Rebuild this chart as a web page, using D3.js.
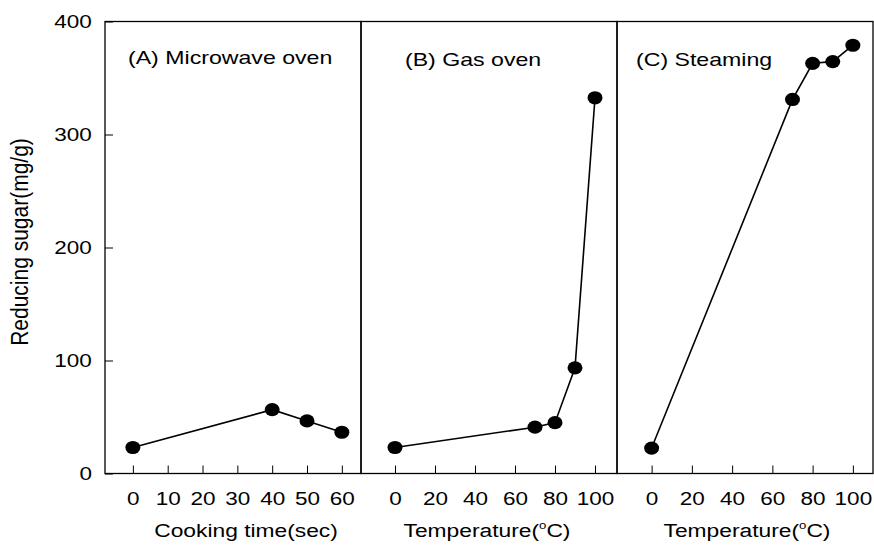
<!DOCTYPE html>
<html>
<head>
<meta charset="utf-8">
<script src="https://cdn.jsdelivr.net/npm/d3@7"></script>
<style>
  body { margin: 0; background: #fff; }
  text { font-family: "Liberation Sans", Arial, sans-serif; fill: #000; }
  .axis path { display: none; }
  .axis line { stroke: #000; stroke-width: 1; }
  .axis text { font-size: 18px; }
</style>
</head>
<body>
<div id="chart"></div>
<script>

// data
var timeA  = [0, 40, 50, 60];
var sugarA = [23, 56.5, 46.5, 36.5];

var tempB  = [0, 70, 80, 90, 100];
var sugarB = [23, 41, 45, 93.5, 332.5];

var tempC  = [0, 70, 80, 90, 100];
var sugarC = [22.5, 331, 363, 364.5, 379];

var ticksA = [0, 10, 20, 30, 40, 50, 60];
var ticksT = [0, 20, 40, 60, 80, 100];
var ticksY = [0, 100, 200, 300, 400];

var titles  = ["(A) Microwave oven", "(B) Gas oven", "(C) Steaming"];
var xTitles = ["Cooking time(sec)", "Temperature(", "Temperature("];

// scanned figure is stretched sideways a bit
var SX = 1.25;

var W = 874, H = 547;
var margin = { top: 21.5, left: 105, bottom: 73.5 };
var panelW = 256;
var plotH = H - margin.top - margin.bottom;

var svg = d3.select("#chart").append("svg")
    .attr("width", W)
    .attr("height", H);

var y = d3.scaleLinear()
    .domain([0, 400])
    .range([margin.top + plotH, margin.top]);

var panels = [
    { xs: timeA, ys: sugarA, domain: [-8, 65.5], ticks: ticksA, titleX: 128, titleY: 64, labelX: 246, deg: false },
    { xs: tempB, ys: sugarB, domain: [-17, 111], ticks: ticksT, titleX: 405, titleY: 66, labelX: 487, deg: true },
    { xs: tempC, ys: sugarC, domain: [-17.2, 110], ticks: ticksT, titleX: 636, titleY: 66, labelX: 747, deg: true }
];

panels.forEach(function(p, i) {
    var x0 = margin.left + i * panelW;
    var x = d3.scaleLinear()
        .domain(p.domain)
        .range([x0, x0 + panelW]);

    // x axis, ticks pointing up into the plot
    var xAxis = d3.axisBottom(x)
        .tickValues(p.ticks)
        .tickSizeInner(-8)
        .tickSizeOuter(0)
        .tickPadding(19);

    var gx = svg.append("g")
        .attr("class", "axis")
        .attr("transform", "translate(0," + y(0) + ")")
        .call(xAxis);
    gx.selectAll("text").attr("transform", "scale(" + SX + ",1)");

    // frame
    svg.append("rect")
        .attr("x", x0)
        .attr("y", margin.top)
        .attr("width", panelW)
        .attr("height", plotH)
        .attr("fill", "none")
        .attr("stroke", "#000")
        .attr("stroke-width", 1.3);

    var pts = p.xs.map(function(d, k) { return [d, p.ys[k]]; });

    var line = d3.line()
        .x(function(d) { return x(d[0]); })
        .y(function(d) { return y(d[1]); });

    svg.append("path")
        .datum(pts)
        .attr("d", line)
        .attr("fill", "none")
        .attr("stroke", "#000")
        .attr("stroke-width", 1.6);

    svg.selectAll(".dot" + i)
        .data(pts)
        .enter().append("ellipse")
            .attr("class", "dot" + i)
            .attr("cx", function(d) { return x(d[0]); })
            .attr("cy", function(d) { return y(d[1]); })
            .attr("rx", 7.5)
            .attr("ry", 6.6)
            .attr("fill", "#000");

    // panel title
    svg.append("text")
        .attr("transform", "translate(" + p.titleX + "," + p.titleY + ") scale(" + SX + ",1)")
        .attr("font-size", 18.5)
        .text(titles[i]);

    // x axis title
    var t = svg.append("text")
        .attr("transform", "translate(" + p.labelX + ",537) scale(" + (SX - 0.05) + ",1)")
        .attr("text-anchor", "middle")
        .attr("font-size", 19)
        .text(xTitles[i]);
    if (p.deg) {
        t.append("tspan").attr("font-size", 11).attr("dy", -8).text("o");
        t.append("tspan").attr("dy", 8).text("C)");
    }
});

// y axis, ticks inward
var yAxis = d3.axisLeft(y)
    .tickValues(ticksY)
    .tickSizeInner(-8)
    .tickSizeOuter(0)
    .tickPadding(10.5);

var gy = svg.append("g")
    .attr("class", "axis")
    .attr("transform", "translate(" + margin.left + ",0)")
    .call(yAxis);
gy.selectAll("text").attr("transform", "scale(" + SX + ",1)");

svg.append("text")
    .attr("transform", "translate(28,242) rotate(-90) scale(1,1.15)")
    .attr("text-anchor", "middle")
    .attr("font-size", 21)
    .text("Reducing sugar(mg/g)");

</script>
</body>
</html>
